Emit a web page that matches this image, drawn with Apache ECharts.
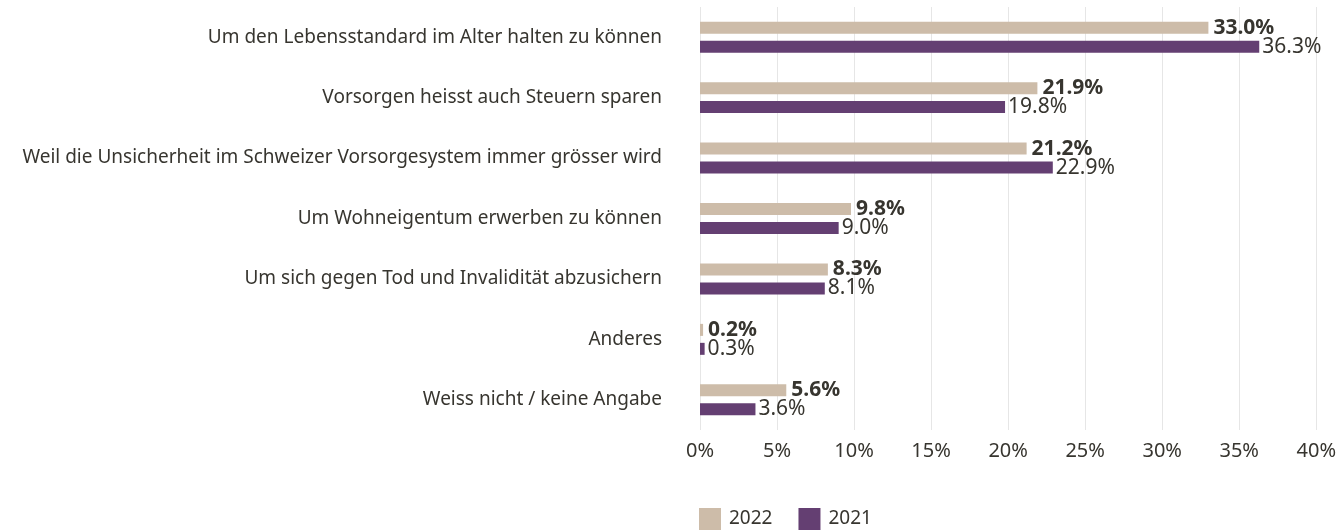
<!DOCTYPE html>
<html>

<head>
    <meta charset="utf-8" />
    <script src="https://cdn.jsdelivr.net/npm/echarts@6/dist/echarts.min.js"></script>
    <style>
        html, body { margin: 0; padding: 0; background: #fff; }
    </style>
</head>

<body>
    <div id="main" style="width: 1339px; height: 531px;"></div>
    <script type="text/javascript">
        var categories = [
            'Um den Lebensstandard im Alter halten zu können',
            'Vorsorgen heisst auch Steuern sparen',
            'Weil die Unsicherheit im Schweizer Vorsorgesystem immer grösser wird',
            'Um Wohneigentum erwerben zu können',
            'Um sich gegen Tod und Invalidität abzusichern',
            'Anderes',
            'Weiss nicht / keine Angabe'
        ];
        var values2022 = [33.0, 21.9, 21.2, 9.8, 8.3, 0.2, 5.6];
        var values2021 = [36.3, 19.8, 22.9, 9.0, 8.1, 0.3, 3.6];
        var seriesNames = ['2022', '2021'];

        var fontFamily = '"Noto Sans", "Open Sans", sans-serif';
        var textColor = '#37352f';
        var myChart = echarts.init(document.getElementById('main'));

        var option = {
            animation: false,
            textStyle: { fontFamily: fontFamily },
            grid: {
                left: 700,
                right: 21,
                top: 7,
                bottom: 101
            },
            legend: {
                data: seriesNames,
                left: 694,
                top: 503,
                itemWidth: 22,
                itemHeight: 22,
                itemGap: 26,
                icon: 'rect',
                textStyle: { fontSize: 19, color: textColor, fontFamily: fontFamily, padding: [0, 0, 0, 3] }
            },
            xAxis: {
                type: 'value',
                min: 0,
                max: 40,
                interval: 5,
                axisLine: { show: false },
                axisTick: { show: false },
                splitLine: { lineStyle: { color: '#e6e6e6', width: 1 } },
                axisLabel: {
                    formatter: '{value}%',
                    fontSize: 20,
                    color: textColor,
                    margin: 11
                }
            },
            yAxis: {
                type: 'category',
                inverse: true,
                data: categories,
                axisLine: { show: false },
                axisTick: { show: false },
                axisLabel: {
                    fontSize: 19,
                    color: textColor,
                    margin: 38,
                    padding: [5, 0, 0, 0]
                }
            },
            series: [
                {
                    name: seriesNames[0],
                    type: 'bar',
                    data: values2022,
                    barWidth: 12,
                    barGap: '58%',
                    itemStyle: { color: '#cdbca9' },
                    label: {
                        show: true,
                        position: 'right',
                        distance: 5,
                        formatter: function (p) { return p.value.toFixed(1) + '%'; },
                        fontSize: 21,
                        fontWeight: 'bold',
                        color: textColor
                    }
                },
                {
                    name: seriesNames[1],
                    type: 'bar',
                    data: values2021,
                    barWidth: 12,
                    itemStyle: { color: '#643f72' },
                    label: {
                        show: true,
                        position: 'right',
                        distance: 3,
                        formatter: function (p) { return p.value.toFixed(1) + '%'; },
                        fontSize: 21,
                        color: textColor
                    }
                }
            ]
        };

        myChart.setOption(option);
    </script>
</body>

</html>
